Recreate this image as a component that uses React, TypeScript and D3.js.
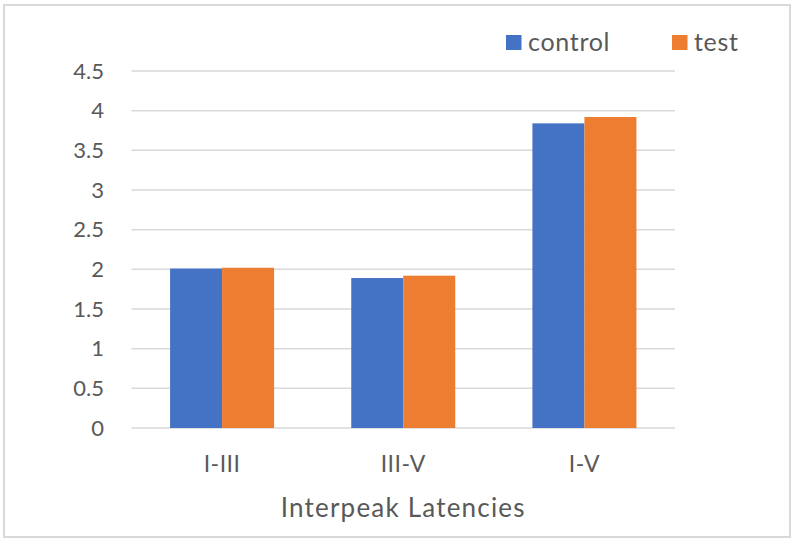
import React from "react";
import * as d3 from "d3";

const categories = ["I-III", "III-V", "I-V"];
const seriesNames = ["control", "test"];
const controlValues = [2.01, 1.89, 3.84];
const testValues = [2.02, 1.92, 3.92];
const yTicks = [0, 0.5, 1, 1.5, 2, 2.5, 3, 3.5, 4, 4.5];
const colors = ["#4472C4", "#ED7D31"];

const W = 795;
const H = 542;
const FONT = "Lato, 'Noto Sans', sans-serif";

export default function App() {
  const left = 131.5;
  const right = 675;
  const top = 71;
  const bottom = 428;
  const x = d3.scaleBand<string>().domain(categories).range([left, right]).paddingInner(0).paddingOuter(0);
  const inner = d3.scaleBand<string>().domain(seriesNames).range([0, 104]);
  const y = d3.scaleLinear().domain([0, 4.5]).range([bottom, top]);
  const values = [controlValues, testValues];
  const groupOffset = (x.bandwidth() - 104) / 2;

  return (
    <div style={{ position: "fixed", left: 0, top: 0 }}>
      <svg width={W} height={H} style={{ display: "block", background: "#fff" }}>
        <rect x={4} y={5} width={786} height={532} fill="#fff" stroke="#d9d9d9" strokeWidth={2} />
        {yTicks.map((t) => (
          <g key={t}>
            <line x1={left} x2={right} y1={y(t)} y2={y(t)} stroke="#d9d9d9" strokeWidth={1.5} />
            <text x={104} y={y(t)} dy="0.35em" textAnchor="end" fontFamily={FONT} fontSize={22} fill="#595959">
              {t}
            </text>
          </g>
        ))}
        {categories.map((c, i) => (
          <g key={c}>
            {seriesNames.map((s, j) => (
              <rect
                key={s}
                x={(x(c) as number) + groupOffset + (inner(s) as number)}
                y={y(values[j][i])}
                width={inner.bandwidth()}
                height={bottom - y(values[j][i])}
                fill={colors[j]}
              />
            ))}
            <text x={(x(c) as number) + x.bandwidth() / 2} y={472} textAnchor="middle" fontFamily={FONT} fontSize={23} letterSpacing={0.5} fill="#595959">
              {c}
            </text>
          </g>
        ))}
        <text x={(left + right) / 2} y={517} textAnchor="middle" fontFamily={FONT} fontSize={26} letterSpacing={1.2} fill="#595959">
          Interpeak Latencies
        </text>
        {seriesNames.map((s, j) => {
          const lx = [506, 672][j];
          return (
            <g key={s}>
              <rect x={lx} y={35} width={15.5} height={15} fill={colors[j]} />
              <text x={lx + 22} y={51} fontFamily={FONT} fontSize={25} letterSpacing={0.7} fill="#595959">
                {s}
              </text>
            </g>
          );
        })}
      </svg>
    </div>
  );
}
